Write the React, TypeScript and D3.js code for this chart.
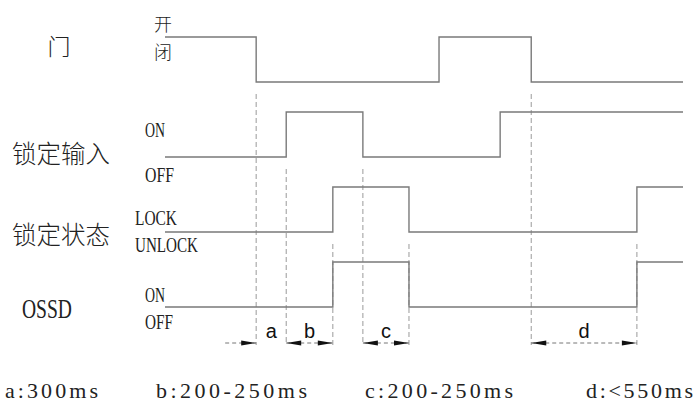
import React from "react";
import * as d3 from "d3";

// time axis in arbitrary units (0..100)
const signalNames = ["门", "锁定输入", "锁定状态", "OSSD"];
const highLabels = ["开", "ON", "LOCK", "ON"];
const lowLabels = ["闭", "OFF", "UNLOCK", "OFF"];
// initial level (1 = high, 0 = low) and toggle times
const initialLevels = [1, 0, 0, 0];
const doorToggles = [17.6, 52.9, 70.7];
const lockInputToggles = [23.4, 38.2, 64.7];
const lockStateToggles = [32.4, 47.1, 91.1];
const ossdToggles = [32.4, 47.1, 91.1];
const toggles = [doorToggles, lockInputToggles, lockStateToggles, ossdToggles];

// dashed reference lines: time and the row under which they start
const dashTimes = [17.6, 23.4, 32.4, 38.2, 47.1, 70.7, 91.1];
const dashRows = [0, 1, 2, 1, 2, 0, 2];

// intervals
const intervalNames = ["a", "b", "c", "d"];
const intervalStart = [17.6, 23.4, 38.2, 70.7];
const intervalEnd = [23.4, 32.4, 47.1, 91.1];
const intervalOutside = [true, false, false, false];

const legendTexts = ["a:300ms", "b:200-250ms", "c:200-250ms", "d:<550ms"];

const W = 695;
const H = 403;

export default function App() {
  const x = d3.scaleLinear().domain([0, 100]).range([165, 683]);
  const rowLow = d3.scaleLinear().domain([0, 3]).range([82, 307]);
  const amp = 45;
  const arrowY = 343;
  const dashBottom = 345;

  const line = d3
    .line<[number, number]>()
    .x((d) => x(d[0]))
    .y((d) => d[1])
    .curve(d3.curveStepAfter);

  const paths = toggles.map((tg, i) => {
    const pts: [number, number][] = [];
    let lvl = initialLevels[i];
    const yOf = (l: number) => rowLow(i) - (l ? amp : 0);
    pts.push([0, yOf(lvl)]);
    tg.forEach((t) => {
      lvl = 1 - lvl;
      pts.push([t, yOf(lvl)]);
    });
    pts.push([100, yOf(lvl)]);
    return line(pts) || "";
  });

  const arrowHead = (tipX: number, dir: number) => {
    const L = 15;
    const h = 2.6;
    return `M${tipX},${arrowY} L${tipX - dir * L},${arrowY - h} L${tipX - dir * L},${arrowY + h} Z`;
  };

  const latin = "Liberation Serif, Times New Roman, DejaVu Serif, serif";
  const cjk = "Noto Sans CJK SC, sans-serif";
  const sans = "Liberation Sans, Arial, sans-serif";

  const leftLabelY = [55, 163, 244, 318];
  const legendX = [5, 156, 365, 586];
  const legendW = [93, 151, 148, 107];

  return (
    <svg
      width={W}
      height={H}
      style={{ position: "absolute", left: 0, top: 0, background: "#fff" }}
    >
      {/* left labels */}
      {signalNames.map((n, i) =>
        i === 3 ? (
          <text
            key={n}
            x={22}
            y={leftLabelY[i]}
            style={{ fontFamily: latin }}
            fontSize={28}
            fill="#222"
            textLength={50}
            lengthAdjust="spacingAndGlyphs"
          >
            {n}
          </text>
        ) : (
          <text
            key={n}
            x={i === 0 ? 59 : 61}
            y={leftLabelY[i]}
            style={{ fontFamily: cjk }}
            fontSize={i === 0 ? 23 : 24.5}
            fontWeight={300}
            fill="#222"
            textAnchor="middle"
          >
            {n}
          </text>
        )
      )}

      {/* level labels */}
      <text x={154} y={31} style={{ fontFamily: cjk }} fontSize={18} fontWeight={300} fill="#222">
        {highLabels[0]}
      </text>
      <text x={154} y={59} style={{ fontFamily: cjk }} fontSize={18} fontWeight={300} fill="#222">
        {lowLabels[0]}
      </text>
      {[1, 2, 3].map((i) => {
        const hy = [0, 137, 225, 302][i];
        const ly = [0, 182, 252, 329][i];
        const hx = i === 2 ? 135 : 145;
        const hw = [0, 20, 42, 20][i];
        const lw = [0, 29, 63, 28][i];
        return (
          <g key={i}>
            <text
              x={hx}
              y={hy}
              style={{ fontFamily: latin }}
              fontSize={20}
              fill="#222"
              textLength={hw}
              lengthAdjust="spacingAndGlyphs"
            >
              {highLabels[i]}
            </text>
            <text
              x={hx}
              y={ly}
              style={{ fontFamily: latin }}
              fontSize={20}
              fill="#222"
              textLength={lw}
              lengthAdjust="spacingAndGlyphs"
            >
              {lowLabels[i]}
            </text>
          </g>
        );
      })}

      {/* dashed reference lines */}
      {dashTimes.map((t, i) => (
        <line
          key={i}
          x1={x(t)}
          x2={x(t)}
          y1={rowLow(dashRows[i]) + 12}
          y2={dashBottom}
          stroke="#9a9a9a"
          strokeWidth={1}
          strokeDasharray="5,3"
        />
      ))}

      {/* signals */}
      {paths.map((p, i) => (
        <path key={i} d={p} fill="none" stroke="#7a7a7a" strokeWidth={1.4} />
      ))}

      {/* interval arrows */}
      {intervalNames.map((n, i) => {
        const x0 = x(intervalStart[i]);
        const x1 = x(intervalEnd[i]);
        return (
          <g key={n}>
            {intervalOutside[i] ? (
              <>
                <line
                  x1={x0 - 31}
                  x2={x0}
                  y1={arrowY}
                  y2={arrowY}
                  stroke="#777"
                  strokeWidth={1}
                  strokeDasharray="4,3"
                />
                <path d={arrowHead(x0, 1)} fill="#111" />
              </>
            ) : (
              <>
                <line
                  x1={x0}
                  x2={x1}
                  y1={arrowY}
                  y2={arrowY}
                  stroke="#777"
                  strokeWidth={1}
                  strokeDasharray="4,3"
                />
                <path d={arrowHead(x0, -1)} fill="#111" />
                <path d={arrowHead(x1, 1)} fill="#111" />
              </>
            )}
            <text
              x={(x0 + x1) / 2}
              y={338}
              style={{ fontFamily: sans }}
              fontSize={20}
              fill="#111"
              textAnchor="middle"
            >
              {n}
            </text>
          </g>
        );
      })}

      {/* legend */}
      {legendTexts.map((t, i) => (
        <text
          key={t}
          x={legendX[i]}
          y={398}
          style={{ fontFamily: latin }}
          fontSize={22}
          fill="#222"
          textLength={legendW[i]}
          lengthAdjust="spacing"
        >
          {t}
        </text>
      ))}
    </svg>
  );
}
